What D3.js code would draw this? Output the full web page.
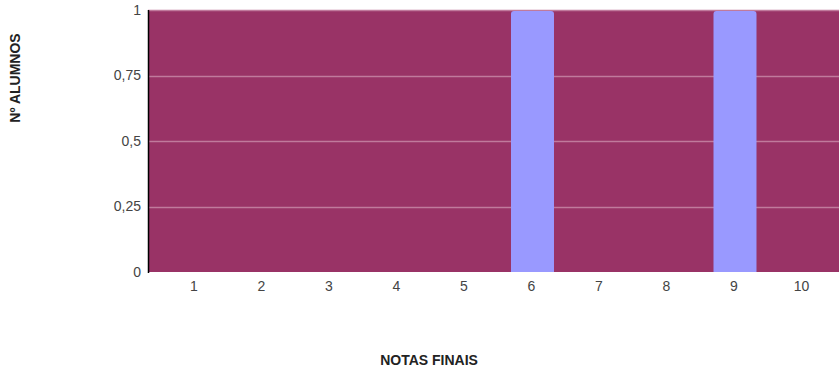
<!DOCTYPE html>
<html><head><meta charset="utf-8">
<script src="https://cdn.jsdelivr.net/npm/d3@7"></script>
<style>body{margin:0;background:#fff}svg{display:block}text{font-family:"Liberation Sans",Arial,sans-serif}</style>
</head><body>
<script>
const categories = ["1","2","3","4","5","6","7","8","9","10"];
const values = [0,0,0,0,0,1,0,0,1,0];
const yTicks = [0,0.25,0.5,0.75,1];
const yTickLabels = ["0","0,25","0,5","0,75","1"];
const xTitle = "NOTAS FINAIS";
const yTitle = "Nº ALUMNOS";

(function(){
const W=839,H=372;
const svg=d3.select("body").append("svg").attr("width",W).attr("height",H);
const pL=148,pR=849.5,pT=10,pB=272;
const x=d3.scaleBand().domain(categories).range([pL,pR]).paddingInner(0.363).paddingOuter(0.378);
const y=d3.scaleLinear().domain([0,1]).range([pB,pT]);

svg.append("rect").attr("x",pL).attr("y",pT).attr("width",pR-pL).attr("height",pB-pT).attr("fill","#993366");

svg.append("g").selectAll("line").data(yTicks.filter(d=>d>0)).join("line")
  .attr("x1",pL).attr("x2",pR).attr("y1",d=>Math.round(y(d))+0.5).attr("y2",d=>Math.round(y(d))+0.5)
  .attr("stroke","#c07a9c").attr("stroke-width",1.5);

const r=3;
svg.append("g").selectAll("path").data(categories.map((c,i)=>({c,v:values[i]})).filter(d=>d.v>0)).join("path")
  .attr("fill","#9999ff")
  .attr("d",d=>{const x0=x(d.c),w=x.bandwidth(),y0=y(d.v)+1,y1=y(0);
    return `M${x0},${y1}V${y0+r}Q${x0},${y0} ${x0+r},${y0}H${x0+w-r}Q${x0+w},${y0} ${x0+w},${y0+r}V${y1}Z`;});

svg.append("line").attr("x1",pL+0.5).attr("x2",pL+0.5).attr("y1",pT).attr("y2",pB+1).attr("stroke","#000").attr("stroke-width",1.5);

svg.append("g").selectAll("text").data(yTicks).join("text")
  .attr("x",141).attr("y",d=>y(d)).attr("dy","0.35em").attr("text-anchor","end")
  .attr("font-size",14).attr("fill","#444").text((d,i)=>yTickLabels[i]);

svg.append("g").selectAll("text").data(categories).join("text")
  .attr("x",d=>x(d)+x.bandwidth()/2-1).attr("y",286).attr("dy","0.35em").attr("text-anchor","middle")
  .attr("font-size",14).attr("fill","#444").text(d=>d);

svg.append("text").attr("x",429).attr("y",360).attr("dy","0.35em").attr("text-anchor","middle")
  .attr("font-size",14).attr("font-weight","bold").attr("fill","#222").text(xTitle);
svg.append("text").attr("transform","translate(15,78) rotate(-90)").attr("dy","0.35em").attr("text-anchor","middle")
  .attr("font-size",14).attr("font-weight","bold").attr("fill","#222").text(yTitle);
})();
</script>
</body></html>
